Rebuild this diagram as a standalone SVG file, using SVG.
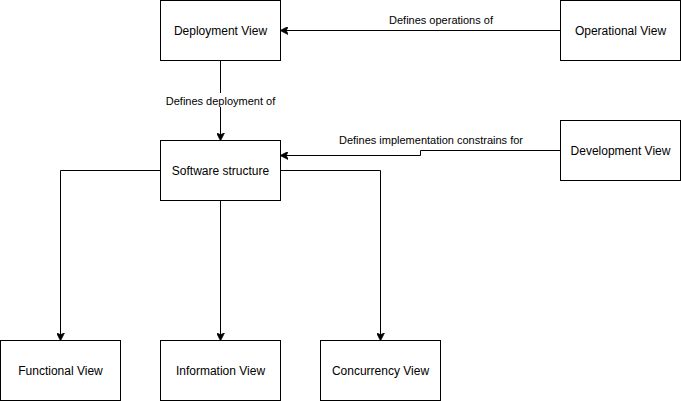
<svg xmlns="http://www.w3.org/2000/svg" width="681" height="401" viewBox="0 0 681 401">
<style>
.n{fill:#fff;stroke:#000;stroke-width:1}
.t{font-family:"Liberation Sans",Arial,sans-serif;font-size:12px;fill:#000;text-anchor:middle;dominant-baseline:central}
.l{font-family:"Liberation Sans",Arial,sans-serif;font-size:11px;fill:#000;text-anchor:middle;dominant-baseline:central}
.c{fill:none;stroke:#000;stroke-width:1}
</style>
<defs>
<marker id="a" viewBox="0 0 10 10" refX="9" refY="5" markerWidth="8" markerHeight="8" markerUnits="userSpaceOnUse" orient="auto">
<path d="M0,0 L10,5 L0,10 L2.5,5 z" fill="#000" stroke="#000"/>
</marker>
</defs>
<rect width="681" height="401" fill="#fff"/>
<g id="connectors">
<path class="c" d="M560.5,30.5 H281" marker-end="url(#a)"/>
<path class="c" d="M220.5,60.5 V140" marker-end="url(#a)"/>
<rect x="164" y="93" width="113" height="14" fill="#fff"/>
<text class="l" x="220.5" y="100.5">Defines deployment of</text>
<text class="l" x="441" y="20">Defines operations of</text>
<path class="c" d="M560.5,150.5 H420.5 V155.5 H281" marker-end="url(#a)"/>
<text class="l" x="431" y="140">Defines implementation constrains for</text>
<path class="c" d="M160.5,170.5 H60.5 V340" marker-end="url(#a)"/>
<path class="c" d="M220.5,200.5 V340" marker-end="url(#a)"/>
<path class="c" d="M280.5,170.5 H380.5 V340" marker-end="url(#a)"/>
</g>
<g id="deployment"><rect class="n" x="160.5" y="0.5" width="120" height="60"/><text class="t" x="220.5" y="30.5">Deployment View</text></g>
<g id="operational"><rect class="n" x="560.5" y="0.5" width="120" height="60"/><text class="t" x="620.5" y="30.5">Operational View</text></g>
<g id="software"><rect class="n" x="160.5" y="140.5" width="120" height="60"/><text class="t" x="220.5" y="170.5">Software structure</text></g>
<g id="development"><rect class="n" x="560.5" y="120.5" width="120" height="60"/><text class="t" x="620.5" y="150.5">Development View</text></g>
<g id="functional"><rect class="n" x="0.5" y="340.5" width="120" height="60"/><text class="t" x="60.5" y="370.5">Functional View</text></g>
<g id="information"><rect class="n" x="160.5" y="340.5" width="120" height="60"/><text class="t" x="220.5" y="370.5">Information View</text></g>
<g id="concurrency"><rect class="n" x="320.5" y="340.5" width="120" height="60"/><text class="t" x="380.5" y="370.5">Concurrency View</text></g>
</svg>
